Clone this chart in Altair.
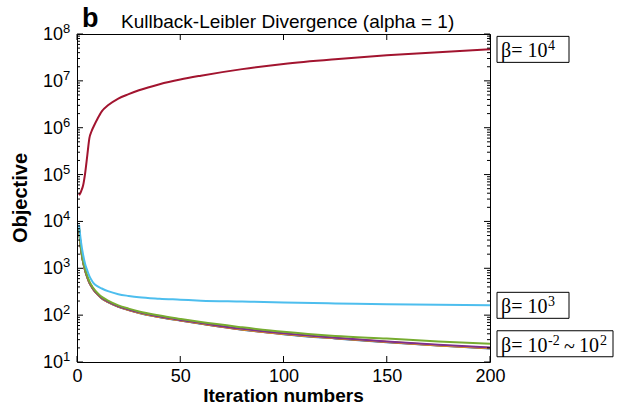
import altair as alt
import pandas as pd

# ---------------- data ----------------
iters = [1, 2, 3, 4, 5, 6, 7, 8, 10, 12, 15, 20, 25, 30, 40, 50, 60, 80, 100, 125, 150, 175, 200]

# beta = 1e4 (dark red)
obj_b1e4 = [3.6e4, 4.4e4, 6.0e4, 1.12e5, 2.6e5, 6.0e5, 8.3e5, 1.05e6, 1.58e6, 2.24e6, 3.0e6, 4.2e6,
            5.2e6, 6.3e6, 8.5e6, 1.07e7, 1.29e7, 1.78e7, 2.3e7, 2.9e7, 3.5e7, 4.1e7, 4.7e7]
# beta = 1e3 (light blue)
obj_b1e3 = [8500, 3500, 1900, 1200, 890, 680, 560, 480, 410, 370, 325, 280,
            257, 240, 224, 214, 204, 195, 186, 178, 170, 166, 162]
# beta = 1e2 (green)
obj_b1e2 = [7100, 2600, 1400, 930, 680, 525, 436, 372, 295, 245, 204, 162,
            138, 120, 98, 83, 71, 55, 44, 36, 31.6, 27.5, 24.5]
# beta = 1e1 (purple)
obj_b1e1 = [6800, 2500, 1350, 890, 645, 500, 417, 355, 282, 234, 195, 155,
            132, 115, 93, 79, 68, 51, 41, 33, 27.5, 23.4, 20.4]
# beta = 1e0 (yellow, mostly hidden)
obj_b1e0 = [6750, 2480, 1340, 880, 640, 495, 413, 351, 279, 231, 193, 153,
            130, 113, 92, 78, 67, 50, 40, 32.4, 27, 22.9, 20.0]
# beta = 1e-1 (orange, mostly hidden)
obj_b1em1 = [6720, 2470, 1335, 876, 637, 492, 411, 349, 277, 229, 191, 152,
             129, 112, 91, 77, 66, 49.5, 39.6, 32, 26.6, 22.6, 19.7]
# beta = 1e-2 (blue, mostly hidden)
obj_b1em2 = [6700, 2460, 1330, 873, 635, 490, 409, 348, 276, 228, 190, 151,
             128, 111, 90.5, 76.5, 65.5, 49, 39.3, 31.8, 26.4, 22.4, 19.5]

series = [  # drawn in this order (later on top)
    ("1e-2", obj_b1em2, "#0072BD"),
    ("1e-1", obj_b1em1, "#D95319"),
    ("1e0", obj_b1e0, "#EDB120"),
    ("1e1", obj_b1e1, "#7E2F8E"),
    ("1e2", obj_b1e2, "#77AC30"),
    ("1e3", obj_b1e3, "#4DBEEE"),
    ("1e4", obj_b1e4, "#A2142F"),
]

x_ticks = [0, 50, 100, 150, 200]
y_major = [1e1, 1e2, 1e3, 1e4, 1e5, 1e6, 1e7, 1e8]
y_exponents = ["1", "2", "3", "4", "5", "6", "7", "8"]
y_minor = [m * d for d in y_major[:-1] for m in range(2, 10)]

# annotation boxes: anchor value, box right offset, text pieces (text, dx, size, dy)
annotations = [
    (obj_b1e4[-1], 79, [("β= 10", 11, 20, 0), ("4", 58, 14, -7)]),
    (obj_b1e3[-1], 79, [("β= 10", 11, 20, 0), ("3", 58, 14, -7)]),
    (obj_b1e2[-1], 123, [("β= 10", 11, 20, 0), ("-2", 58, 14, -7), ("~", 74, 20, 1),
                         ("10", 89, 20, 0), ("2", 110, 14, -7)]),
]

# ---------------- chart ----------------
W, H = 413, 328
SANS = "Liberation Sans"
SERIF = "Liberation Serif"

xscale = alt.Scale(domain=[0, 200], nice=False, zero=False)
yscale = alt.Scale(type="log", domain=[10, 1e8], nice=False)

xaxis = alt.Axis(values=x_ticks, title=None, grid=False, ticks=False, tickSize=0, domain=False,
                 labelFont=SANS, labelFontSize=18, labelPadding=5, labelColor="black",
                 labelFlush=False)
yaxis = alt.Axis(values=y_major, title=None, grid=False, ticks=False, tickSize=0, domain=False,
                 labels=False)


def X(field):
    return alt.X(field, scale=xscale, axis=xaxis)


def Y(field):
    return alt.Y(field, scale=yscale, axis=yaxis)


layers = []
for name, vals, col in series:
    d = pd.DataFrame({"it": iters, "val": vals})
    layers.append(
        alt.Chart(d).mark_line(color=col, strokeWidth=2, interpolate="monotone").encode(
            x=X("it:Q"), y=Y("val:Q"))
    )

# inward ticks (MATLAB style box axes)
dmaj = pd.DataFrame({"v": y_major, "e": y_exponents})
dmin = pd.DataFrame({"v": y_minor})
dxt = pd.DataFrame({"v": x_ticks})


def yticks(d, length):
    left = alt.Chart(d).mark_rule(color="black", strokeWidth=1, x2Offset=length).encode(
        x=alt.datum(0, scale=xscale, axis=xaxis), x2=alt.datum(0), y=Y("v:Q"))
    right = alt.Chart(d).mark_rule(color="black", strokeWidth=1, xOffset=-length).encode(
        x=alt.datum(200, scale=xscale, axis=xaxis), x2=alt.datum(200), y=Y("v:Q"))
    return [left, right]


layers += yticks(dmaj, 6)
layers += yticks(dmin, 3)
layers.append(alt.Chart(dxt).mark_rule(color="black", strokeWidth=1, y2Offset=-6).encode(
    x=X("v:Q"), y=alt.datum(10, scale=yscale, axis=yaxis), y2=alt.datum(10)))
layers.append(alt.Chart(dxt).mark_rule(color="black", strokeWidth=1, yOffset=6).encode(
    x=X("v:Q"), y=alt.datum(1e8, scale=yscale, axis=yaxis), y2=alt.datum(1e8)))

# y tick labels: 10 with superscript exponent
layers.append(alt.Chart(dmaj).mark_text(text="10", font=SANS, fontSize=18, align="right",
                                         baseline="middle", dx=-14, dy=1, color="black").encode(
    x=alt.datum(0, scale=xscale, axis=xaxis), y=Y("v:Q")))
layers.append(alt.Chart(dmaj).mark_text(font=SANS, fontSize=13, align="left",
                                         baseline="middle", dx=-14, dy=-5, color="black").encode(
    x=alt.datum(0, scale=xscale, axis=xaxis), y=Y("v:Q"), text="e:N"))

# beta annotation boxes
for anc, br, pieces in annotations:
    dd = pd.DataFrame({"it": [200], "val": [anc]})
    layers.append(alt.Chart(dd).mark_rect(fill="white", stroke="black", strokeWidth=1,
                                           xOffset=7, x2Offset=br, yOffset=-13, y2Offset=13).encode(
        x=X("it:Q"), x2="it:Q", y=Y("val:Q"), y2="val:Q"))
    for txt, tdx, size, tdy in pieces:
        layers.append(alt.Chart(dd).mark_text(text=txt, font=SERIF, fontSize=size, align="left",
                                               baseline="alphabetic", dx=tdx, dy=8 + tdy,
                                               color="black").encode(
            x=X("it:Q"), y=Y("val:Q")))

# titles
tdf = pd.DataFrame({"a": [0]})
layers.append(alt.Chart(tdf).mark_text(text="b", font=SANS, fontSize=27, fontWeight="bold",
                                        align="left", baseline="alphabetic", color="black").encode(
    x=alt.value(5), y=alt.value(-7)))
layers.append(alt.Chart(tdf).mark_text(text="Kullback-Leibler Divergence (alpha = 1)", font=SANS,
                                        fontSize=19, align="left", baseline="alphabetic",
                                        color="black").encode(
    x=alt.value(44), y=alt.value(-6)))
layers.append(alt.Chart(tdf).mark_text(text="Objective", font=SANS, fontSize=20, fontWeight="bold",
                                        align="center", baseline="alphabetic", angle=270,
                                        color="black").encode(
    x=alt.value(-50), y=alt.value(164)))
layers.append(alt.Chart(tdf).mark_text(text="Iteration numbers", font=SANS, fontSize=19,
                                        fontWeight="bold", align="center", baseline="alphabetic",
                                        color="black").encode(
    x=alt.value(W / 2), y=alt.value(H + 40)))

chart = alt.layer(*layers).properties(
    width=W, height=H,
    autosize=alt.AutoSizeParams(type="none"),
    padding={"left": 77, "top": 34, "right": 136, "bottom": 44},
    background="white",
).configure_view(stroke="black", strokeWidth=1)

chart.save("out.html", embed_options={"renderer": "svg", "actions": False})
